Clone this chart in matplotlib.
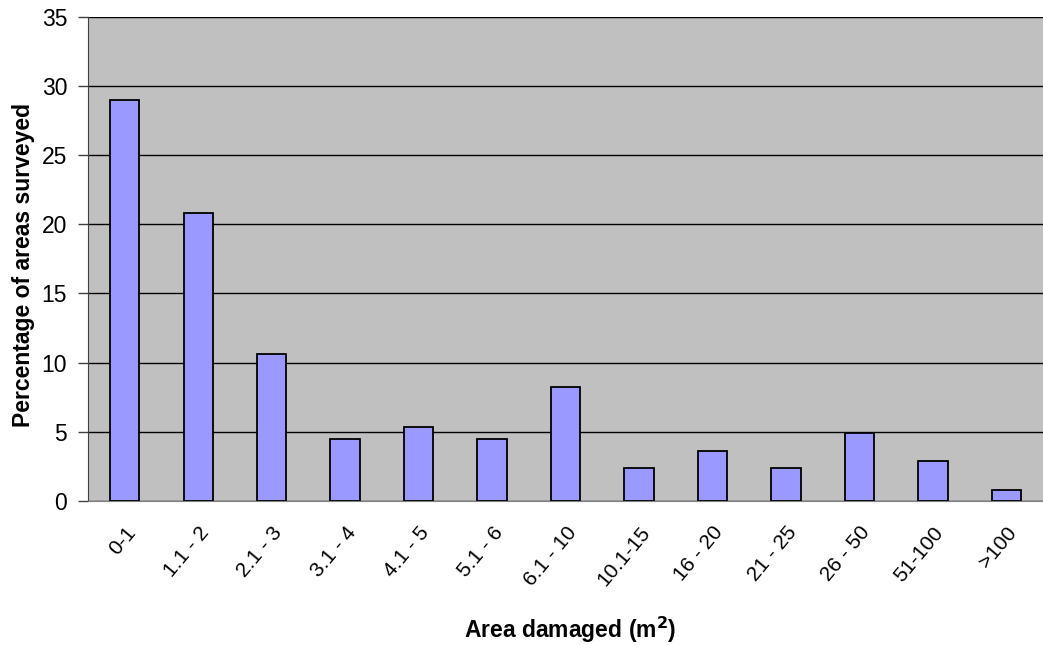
import matplotlib
matplotlib.use("Agg")
import matplotlib.pyplot as plt
import numpy as np

plt.rcParams['font.family'] = ['Liberation Sans', 'DejaVu Sans']

categories = ["0-1", "1.1 - 2", "2.1 - 3", "3.1 - 4", "4.1 - 5", "5.1 - 6", "6.1 - 10",
              "10.1-15", "16 - 20", "21 - 25", "26 - 50", "51-100", ">100"]
values = [29.0, 20.8, 10.6, 4.5, 5.3, 4.5, 8.2, 2.4, 3.6, 2.4, 4.9, 2.9, 0.8]
y_ticks = [0, 5, 10, 15, 20, 25, 30, 35]

fig = plt.figure(figsize=(10.43, 6.45), dpi=100)
ax = fig.add_axes([88/1043, (645-500.7)/645, (1043-88)/1043, (500.7-17)/645])
ax.set_facecolor('#C0C0C0')

x = np.arange(len(categories))
ax.bar(x, values, width=0.4, color='#9999FF', edgecolor='black', linewidth=1.3, zorder=3)

ax.set_xlim(-0.5, len(categories) - 0.5)
ax.set_ylim(0, 35)
ax.set_yticks(y_ticks)
ax.set_yticklabels([str(t) for t in y_ticks], fontsize=16.5)
ax.yaxis.grid(True, color='black', linewidth=1, zorder=1)
ax.set_axisbelow(True)

ax.set_xticks(x)
ax.set_xticklabels(categories, rotation=50, ha='right', va='top', rotation_mode='anchor', fontsize=15)
ax.tick_params(axis='x', length=0, pad=16)
ax.tick_params(axis='y', length=7, width=1, color='#404040', pad=8)

for s in ['top', 'right']:
    ax.spines[s].set_visible(False)
ax.spines['left'].set_color('#404040')
ax.spines['bottom'].set_color('#808080')

fig.text(24/1043, (645-265)/645, 'Percentage of areas surveyed', rotation=90,
         ha='center', va='center', fontsize=16.5, fontweight='bold')
fig.text(570/1043, (645-630)/645, 'Area damaged (m$^\\mathbf{2}$)',
         ha='center', va='center', fontsize=16.5, fontweight='bold')

fig.savefig('out.png', dpi=100)
